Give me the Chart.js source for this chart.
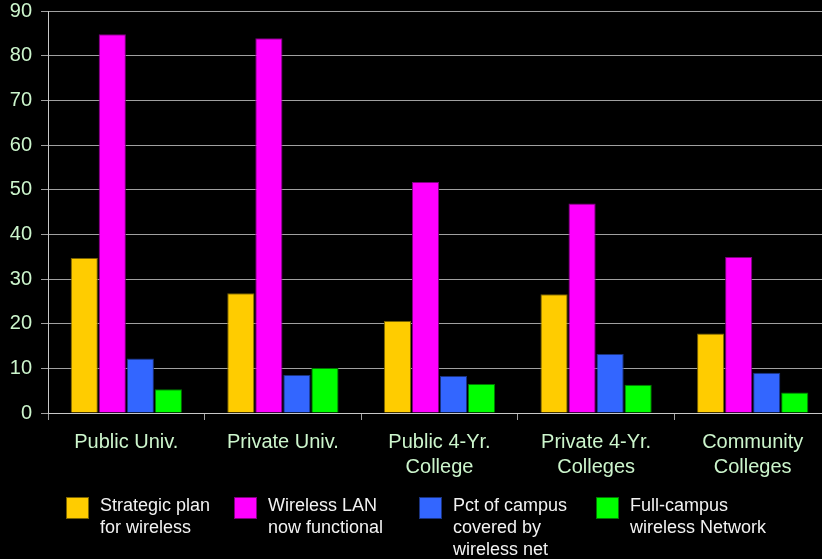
<!DOCTYPE html>
<html>
<head>
<meta charset="utf-8">
<script src="https://cdn.jsdelivr.net/npm/chart.js@4.4.0/dist/chart.umd.min.js"></script>
<style>
    html, body { margin: 0; padding: 0; background: #000; overflow: hidden; }
    #wrap { position: relative; width: 840px; height: 559px; }
</style>
</head>
<body>
<div id="wrap"><canvas id="wirelessChart"></canvas></div>
<script>
// Campus wireless survey, percent of institutions
const categories = [
    ['Public Univ.'],
    ['Private Univ.'],
    ['Public 4-Yr.', 'College'],
    ['Private 4-Yr.', 'Colleges'],
    ['Community', 'Colleges']
];
const seriesNames = [
    ['Strategic plan', 'for wireless'],
    ['Wireless LAN', 'now functional'],
    ['Pct of campus', 'covered by', 'wireless net'],
    ['Full-campus', 'wireless Network']
];
const strategicPlan = [34.7, 26.8, 20.6, 26.6, 17.8];
const wirelessLan = [84.8, 83.9, 51.7, 46.9, 34.9];
const pctCovered = [12.2, 8.5, 8.3, 13.2, 9.0];
const fullCampus = [5.3, 10.1, 6.5, 6.3, 4.6];
const yTicks = [0, 10, 20, 30, 40, 50, 60, 70, 80, 90];

const fills = ['#ffcc00', '#ff00ff', '#3366ff', '#00ff00'];
const edges = ['#7a6200', '#800080', '#1a3380', '#007a00'];

Chart.defaults.font.family = '"Liberation Sans", Arial, sans-serif';

// legend drawn on the canvas so each entry can wrap on several lines
const blockLegend = {
    id: 'blockLegend',
    afterDraw(chart, args, opts) {
        const ctx = chart.ctx;
        ctx.save();
        ctx.font = '18px "Liberation Sans", Arial, sans-serif';
        ctx.textBaseline = 'alphabetic';
        ctx.textAlign = 'left';
        chart.data.datasets.forEach((ds, i) => {
            const x = opts.xs[i];
            ctx.fillStyle = ds.backgroundColor;
            ctx.fillRect(x, opts.top, 23, 22);
            ctx.strokeStyle = ds.borderColor;
            ctx.lineWidth = 1;
            ctx.strokeRect(x + 0.5, opts.top + 0.5, 22, 21);
            ctx.fillStyle = '#f2f2f2';
            ds.label.forEach((line, j) => {
                ctx.fillText(line, x + 34, opts.top + 14 + j * 22);
            });
        });
        ctx.restore();
    }
};

const ctx = document.getElementById('wirelessChart');
new Chart(ctx, {
    type: 'bar',
    data: {
        labels: categories,
        datasets: [strategicPlan, wirelessLan, pctCovered, fullCampus].map((values, i) => ({
            label: seriesNames[i],
            data: values,
            backgroundColor: fills[i],
            borderColor: edges[i],
            borderWidth: 1,
            categoryPercentage: 0.716,
            barPercentage: 0.97
        }))
    },
    options: {
        responsive: true,
        maintainAspectRatio: false,
        animation: false,
        layout: { padding: { top: 0, right: 9, bottom: 80, left: 0 } },
        plugins: {
            legend: { display: false },
            tooltip: { enabled: false },
            blockLegend: { xs: [66, 234, 419, 596], top: 497 }
        },
        scales: {
            x: {
                grid: {
                    drawOnChartArea: false,
                    drawTicks: true,
                    tickLength: 7,
                    color: '#a0a0a0'
                },
                border: { color: '#c8c8c8', width: 1 },
                ticks: {
                    color: '#ccf5cc',
                    font: { size: 20, lineHeight: 1.25 },
                    padding: 10,
                    maxRotation: 0,
                    autoSkip: false
                },
                afterFit(scale) { scale.height = 66; }
            },
            y: {
                min: 0,
                max: 90,
                afterBuildTicks(scale) {
                    scale.ticks = yTicks.map(v => ({ value: v }));
                },
                grid: {
                    color: '#a0a0a0',
                    tickLength: 7,
                    drawTicks: true
                },
                border: { color: '#c8c8c8', width: 1 },
                ticks: {
                    color: '#ccf5cc',
                    font: { size: 20 },
                    padding: 9
                },
                afterFit(scale) {
                    scale.width = 48;
                    scale.paddingTop = 11;
                    scale.paddingBottom = 0;
                }
            }
        }
    },
    plugins: [blockLegend]
});
</script>
</body>
</html>
